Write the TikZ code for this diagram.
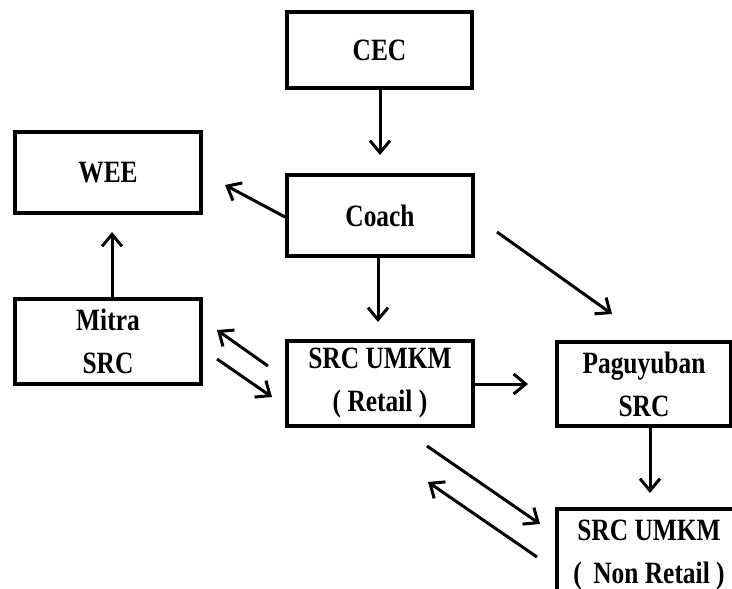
\documentclass[tikz,border=0pt]{standalone}
\usepackage{fontspec}
\setmainfont{Liberation Serif}[FakeStretch=0.82]
\usetikzlibrary{arrows.meta}
\begin{document}
\begin{tikzpicture}[x=1pt,y=-1pt,
  box/.style={draw,line width=3.8pt,rectangle,align=center,inner sep=0pt,
    font=\fontsize{31}{43}\selectfont\bfseries},
  arr/.style={line width=3pt,-{Straight Barb[length=12pt,width=20pt,line width=3pt]}}]
\useasboundingbox (0,0) rectangle (732,589);
\clip (0,0) rectangle (732,589);

% boxes
\node[box,minimum width=185pt,minimum height=76pt] (cec) at (379.5,50) {CEC};
\node[box,minimum width=186pt,minimum height=81pt] (wee) at (108,172.5) {WEE};
\node[box,minimum width=186pt,minimum height=81pt] (coach) at (380,215.5) {Coach};
\node[box,minimum width=186pt,minimum height=85pt] (mitra) at (108,341.5) {Mitra\\SRC};
\node[box,minimum width=186pt,minimum height=85pt] (retail) at (380,383.5) {SRC UMKM\\( Retail )};
\node[box,minimum width=174pt,minimum height=84pt] (pag) at (644,384) {Paguyuban\\SRC};
\node[box,minimum width=184pt,minimum height=92pt] (nonret) at (649,555) {SRC UMKM\\(\, Non Retail )};

% arrow end points
\coordinate (t1) at (380,155);
\coordinate (t2) at (225,185);
\coordinate (t3) at (378,322);
\coordinate (t4) at (112,232);
\coordinate (a1) at (268,366);
\coordinate (a2) at (217,330);
\coordinate (b1) at (217,359);
\coordinate (b2) at (272,397);
\coordinate (c1) at (497,232);
\coordinate (c2) at (612,314);
\coordinate (t5) at (528,384);
\coordinate (t6) at (650,493);
\coordinate (d1) at (427,446);
\coordinate (d2) at (540,524);
\coordinate (e1) at (537,557);
\coordinate (e2) at (428,482);

% connectors
\draw[arr] (cec.south -| t1) -- (t1);
\draw[arr] (coach.west |- 0,217) -- (t2);
\draw[arr] (coach.south -| t3) -- (t3);
\draw[arr] (mitra.north -| t4) -- (t4);
\draw[arr] (a1) -- (a2);
\draw[arr] (b1) -- (b2);
\draw[arr] (c1) -- (c2);
\draw[arr] (retail.east |- t5) -- (t5);
\draw[arr] (pag.south -| t6) -- (t6);
\draw[arr] (d1) -- (d2);
\draw[arr] (e1) -- (e2);
\end{tikzpicture}
\end{document}
